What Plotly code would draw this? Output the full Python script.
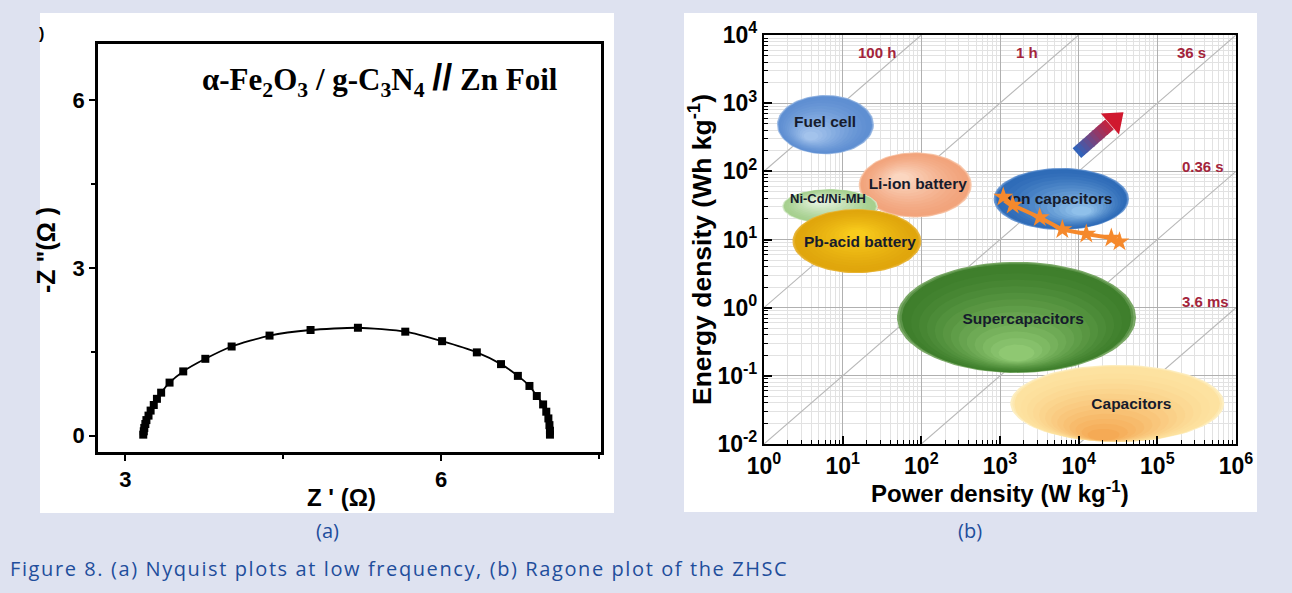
import numpy as np
import plotly.graph_objects as go

W, H = 1292, 593

# ---------------- Panel (a): Nyquist data ----------------
z_real = [3.17, 3.175, 3.18, 3.19, 3.20, 3.22, 3.24, 3.27, 3.30, 3.34, 3.42, 3.55, 3.76,
          4.01, 4.37, 4.76, 5.21, 5.66, 6.01, 6.34, 6.57, 6.73, 6.84, 6.91, 6.97, 7.00,
          7.02, 7.03, 7.035, 7.035]
z_imag = [0.02, 0.08, 0.14, 0.21, 0.28, 0.36, 0.45, 0.55, 0.66, 0.77, 0.95, 1.15, 1.375,
          1.595, 1.79, 1.89, 1.93, 1.86, 1.69, 1.49, 1.28, 1.07, 0.89, 0.71, 0.56, 0.43,
          0.31, 0.19, 0.09, 0.02]
a_xticks = [3, 6]
a_yticks = [0, 3, 6]

# ---------------- Panel (b): Ragone plot ----------------
tech_names = ["Fuel cell", "Li-ion battery", "Ni-Cd/Ni-MH", "Pb-acid battery",
              "Ion capacitors", "Supercapacitors", "Capacitors"]
p_min = [1.46, 16, 1.7, 2.3, 830, 49, 1350]
p_max = [25, 437, 28, 100, 43600, 53700, 708000]
e_min = [178, 21, 17, 3.2, 13.8, 0.11, 0.0107]
e_max = [1318, 190, 55, 28, 112, 4.7, 0.145]
label_p = [5.96, 90, 6.5, 16.6, 5750, 1970, 46800]
label_e = [513, 63, 38, 8.9, 38, 0.65, 0.037]

zhsc_power = [1100, 1450, 3200, 6200, 12500, 26000, 33000]
zhsc_energy = [42, 32, 21, 14, 12, 10.5, 9.3]

time_hours = [100, 1, 0.01, 1e-4, 1e-6]
time_labels = ["100 h", "1 h", "36 s", "0.36 s", "3.6 ms"]

b_ticks = [1e-2, 1e-1, 1e0, 1e1, 1e2, 1e3, 1e4, 1e5, 1e6]


def px(x):
    return x / W


def py(y):
    return 1 - y / H


def hex2rgb(h):
    h = h.lstrip("#")
    return [int(h[i:i + 2], 16) for i in (0, 2, 4)]


def mix(c1, c2, t):
    a, b = hex2rgb(c1), hex2rgb(c2)
    return "rgb(%d,%d,%d)" % tuple(round(a[i] + (b[i] - a[i]) * t) for i in range(3))


fig = go.Figure()

# Panel (a) trace
fig.add_trace(go.Scatter(
    x=z_real, y=z_imag, mode="lines+markers", xaxis="x", yaxis="y",
    line=dict(color="black", width=1.8, shape="spline", smoothing=0.6),
    marker=dict(symbol="square", size=8, color="black"),
    showlegend=False, hoverinfo="skip"))

# Panel (b) constant-time diagonals
for t in time_hours:
    lo = max(1.0, 1e-2 / t)
    hi = min(1e6, 1e4 / t)
    fig.add_trace(go.Scatter(
        x=[lo, hi], y=[lo * t, hi * t], mode="lines", xaxis="x2", yaxis="y2",
        line=dict(color="#b8b8b8", width=1.1), showlegend=False, hoverinfo="skip"))

# Ellipses with layered pseudo-gradients: (edge colour, rim colour, centre colour, highlight offset)
grad = {
    "Fuel cell": ("#9dbbe4", "#5f8fd2", "#a3c3ec", (-0.35, -0.45)),
    "Li-ion battery": ("#f8c8ac", "#f2a47c", "#fbd6c0", (-0.3, 0.25)),
    "Ni-Cd/Ni-MH": ("#d8ecce", "#a6d08f", "#e6f3df", (-0.25, 0.35)),
    "Pb-acid battery": ("#e8b63c", "#e0a60c", "#f8cb1c", (0.0, 0.25)),
    "Ion capacitors": ("#6d9ad4", "#2f6cb8", "#8fc0ea", (0.35, -0.45)),
    "Supercapacitors": ("#7aa866", "#3f7f2c", "#8fc872", (0.0, -0.75)),
    "Capacitors": ("#fdeec0", "#fde2a0", "#f5aa55", (-0.15, -0.95)),
}
theta = np.linspace(0, 2 * np.pi, 90)
N = 16
for name, a0, a1, b0, b1 in zip(tech_names, p_min, p_max, e_min, e_max):
    cx = (np.log10(a0) + np.log10(a1)) / 2
    rx = (np.log10(a1) - np.log10(a0)) / 2
    cy = (np.log10(b0) + np.log10(b1)) / 2
    ry = (np.log10(b1) - np.log10(b0)) / 2
    edge, rim, inner, (hx, hy) = grad[name]
    for k in range(N):
        if k < 3:
            s = 1.0 - 0.02 * k
            col = mix(edge, rim, k / 2)
            ccx, ccy = cx, cy
        else:
            f = (k - 3) / (N - 4)
            s = 0.95 - 0.8 * f
            ccx = cx + (1 - s) * hx * rx
            ccy = cy + (1 - s) * hy * ry
            col = mix(rim, inner, f ** 1.3)
        xs = 10 ** (ccx + s * rx * np.cos(theta))
        ys = 10 ** (ccy + s * ry * np.sin(theta))
        fig.add_trace(go.Scatter(
            x=xs, y=ys, mode="lines", fill="toself", fillcolor=col,
            line=dict(width=0, color=col), xaxis="x2", yaxis="y2",
            showlegend=False, hoverinfo="skip"))

# Ellipse labels (as text traces so the data line stays above them)
label_sizes = [15.5, 15.5, 13, 15.5, 15.5, 15.5, 15.5]
for name, lp, le, fs in zip(tech_names, label_p, label_e, label_sizes):
    fig.add_trace(go.Scatter(
        x=[lp], y=[le], mode="text", text=["<b>%s</b>" % name], xaxis="x2", yaxis="y2",
        textfont=dict(family="Liberation Sans", size=fs, color="#161b2c"),
        showlegend=False, hoverinfo="skip"))

# Gradient arrow (blue -> red)
arrow_tail = (9500, 185)
arrow_tip = (34600, 690)
lt = np.log10(arrow_tail)
lh = np.log10(arrow_tip)
nseg = 10
body_end = 0.74
for i in range(nseg):
    f0 = body_end * i / nseg
    f1 = min(body_end * (i + 1.2) / nseg, body_end)
    p0 = 10 ** (lt + (lh - lt) * f0)
    p1 = 10 ** (lt + (lh - lt) * f1)
    fig.add_trace(go.Scatter(
        x=[p0[0], p1[0]], y=[p0[1], p1[1]], mode="lines", xaxis="x2", yaxis="y2",
        line=dict(color=mix("#2a66c0", "#c8203a", (i + 0.5) / nseg), width=13),
        showlegend=False, hoverinfo="skip"))
head = 10 ** (lt + (lh - lt) * 0.85)
fig.add_trace(go.Scatter(
    x=[head[0]], y=[head[1]], mode="markers", xaxis="x2", yaxis="y2",
    marker=dict(symbol="triangle-up", size=24, color="#d0182e", angle=49,
                line=dict(width=0)),
    showlegend=False, hoverinfo="skip"))

# ZHSC data line
fig.add_trace(go.Scatter(
    x=zhsc_power, y=zhsc_energy, mode="lines+markers", xaxis="x2", yaxis="y2",
    line=dict(color="#f5892c", width=4),
    marker=dict(symbol="star", size=15, color="#f5892c"),
    showlegend=False, hoverinfo="skip"))

sup = lambda v: "<b>10<sup>%d</sup></b>" % int(round(np.log10(v)))

bold_font = dict(family="Liberation Sans", size=22, color="black")
tick_b_font = dict(family="Liberation Sans", size=23, color="black")

fig.update_layout(
    width=W, height=H, margin=dict(l=0, r=0, t=0, b=0, autoexpand=False),
    paper_bgcolor="#dee2f0", plot_bgcolor="white",
    xaxis=dict(domain=[px(98), px(601)], range=[2.74, 7.52], anchor="y", automargin=False,
               tickvals=a_xticks, ticktext=["<b>%d</b>" % v for v in a_xticks],
               ticks="outside", ticklen=6, tickwidth=2, tickcolor="black",
               showline=True, linewidth=2.5, linecolor="black", mirror=True,
               showgrid=False, zeroline=False, tickfont=bold_font,
               minor=dict(tickvals=[4.5, 7.5], ticks="outside", ticklen=4,
                          tickwidth=2, tickcolor="black")),
    yaxis=dict(domain=[py(452), py(44)], range=[-0.29, 7.0], anchor="x", automargin=False,
               tickvals=a_yticks, ticktext=["<b>%d</b>" % v for v in a_yticks],
               ticks="outside", ticklen=6, tickwidth=2, tickcolor="black",
               showline=True, linewidth=2.5, linecolor="black", mirror=True,
               showgrid=False, zeroline=False, tickfont=bold_font,
               minor=dict(tickvals=[1.5, 4.5], ticks="outside", ticklen=4,
                          tickwidth=2, tickcolor="black")),
    xaxis2=dict(type="log", domain=[px(764), px(1236)], range=[0, 6], anchor="y2",
                automargin=False,
                tickvals=b_ticks[2:], ticktext=[sup(v) for v in b_ticks[2:]],
                ticks="inside", ticklen=8, tickwidth=1.5, tickcolor="black",
                showline=True, linewidth=2.2, linecolor="black", mirror=True,
                showgrid=True, gridcolor="#b0b0b0", gridwidth=1, zeroline=False,
                tickfont=tick_b_font,
                minor=dict(dtick="D1", ticks="inside", ticklen=4, tickwidth=1.2,
                           tickcolor="black", showgrid=True, gridcolor="#e2e2e2")),
    yaxis2=dict(type="log", domain=[py(444), py(35)], range=[-2, 4], anchor="x2",
                automargin=False,
                tickvals=b_ticks[:7], ticktext=[sup(v) for v in b_ticks[:7]],
                ticks="inside", ticklen=8, tickwidth=1.5, tickcolor="black",
                showline=True, linewidth=2.2, linecolor="black", mirror=True,
                showgrid=True, gridcolor="#b0b0b0", gridwidth=1, zeroline=False,
                tickfont=tick_b_font,
                minor=dict(dtick="D1", ticks="inside", ticklen=4, tickwidth=1.2,
                           tickcolor="black", showgrid=True, gridcolor="#e2e2e2")),
    shapes=[
        dict(type="rect", xref="paper", yref="paper", x0=px(40), x1=px(614),
             y0=py(513), y1=py(13), fillcolor="white", line=dict(width=0), layer="below"),
        dict(type="rect", xref="paper", yref="paper", x0=px(684), x1=px(1257),
             y0=py(512), y1=py(13), fillcolor="white", line=dict(width=0), layer="below"),
    ],
)

ann = []


def add_text(x, y, text, font, angle=0, xanchor="center"):
    ann.append(dict(xref="paper", yref="paper", x=px(x), y=py(y), showarrow=False,
                    xanchor=xanchor, yanchor="middle", textangle=angle,
                    text=text, font=font))


# Panel (a) texts
add_text(380, 80, "<b>α-Fe<sub>2</sub>O<sub>3</sub> / g-C<sub>3</sub>N<sub>4</sub> "
                  "<span style='font-family:Liberation Sans;font-size:36px'>//</span>"
                  " Zn Foil</b>",
         dict(family="Liberation Serif", size=31, color="black"))
add_text(341, 497, "<b>Z ' (Ω)</b>", dict(family="Liberation Sans", size=24, color="black"))
add_text(46, 250, "<b>-Z \"(Ω )</b>", dict(family="Liberation Sans", size=25, color="black"),
         angle=-90)
add_text(41, 33, "<b>)</b>", dict(family="Liberation Sans", size=16, color="black"))
# Panel (b) axis titles
add_text(1000, 492, "<b>Power density (W kg<sup>-1</sup>)</b>",
         dict(family="Liberation Sans", size=24, color="black"))
add_text(700, 250, "<b>Energy density (Wh kg<sup>-1</sup>)</b>",
         dict(family="Liberation Sans", size=26.5, color="black"), angle=-90)
# Time labels
time_pos = [(877, 53), (1027, 53), (1191, 53), (1203, 167), (1205, 302)]
for lab, (xx, yy) in zip(time_labels, time_pos):
    add_text(xx, yy, "<b>%s</b>" % lab,
             dict(family="Liberation Sans", size=15, color="#a3243b"))
# Sub-captions and caption
cap_font = dict(family="Open Sans", size=20, color="#1f4e9c")
add_text(327, 530, "(a)", cap_font)
add_text(970, 530, "(b)", cap_font)
add_text(8, 568, "<span style='letter-spacing:1.6px'>Figure 8. (a) Nyquist plots at low "
                 "frequency, (b) Ragone plot of the ZHSC</span>", cap_font, xanchor="left")
fig.update_layout(annotations=ann)

fig.write_html("out.html", config={"displayModeBar": False},
               post_script="document.body.style.margin='0';document.body.style.overflow='hidden';")
